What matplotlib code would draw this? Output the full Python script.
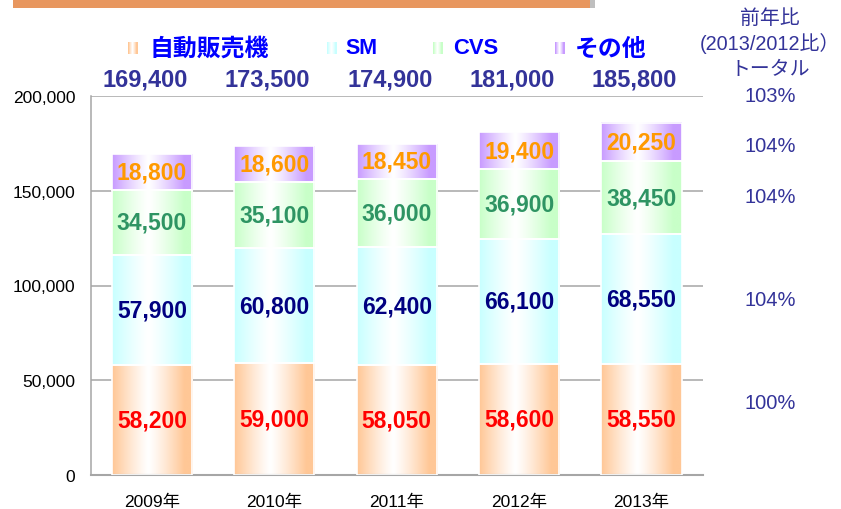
import numpy as np
import matplotlib
matplotlib.use('Agg')
import matplotlib.pyplot as plt
from matplotlib.patches import Rectangle
import matplotlib.transforms as mtransforms
from matplotlib.colors import to_rgb

plt.rcParams['font.family'] = ['Liberation Sans', 'Noto Sans CJK JP', 'DejaVu Sans']

# data
years = ['2009年', '2010年', '2011年', '2012年', '2013年']
series_names = ['自動販売機', 'SM', 'CVS', 'その他']
vending = [58200, 59000, 58050, 58600, 58550]
sm = [57900, 60800, 62400, 66100, 68550]
cvs = [34500, 35100, 36000, 36900, 38450]
other = [18800, 18600, 18450, 19400, 20250]
totals = [169400, 173500, 174900, 181000, 185800]
yoy_labels = ['103%', '104%', '104%', '104%', '100%']

fill_colors = ['#FFC796', '#C8FFFF', '#C8FFC8', '#C89BFF']
text_colors = ['#FF0000', '#000080', '#2E9463', '#FF9900']


def gradient(color, n=64):
    c = np.array(to_rgb(color))
    t = np.linspace(0, 1, n)
    w = np.clip(np.abs(t - 0.45) / 0.45, 0, 1) ** 1.2
    img = 1 - w[:, None] * (1 - c[None, :])
    return img[None, :, :]


fig = plt.figure(figsize=(8.41, 5.10), dpi=100)
ax = fig.add_axes([90.7 / 841, 1 - 475.7 / 510, 612 / 841, 378.4 / 510])

x = np.arange(len(years))
bottom = np.zeros(len(years))
for vals, fc, tc in zip([vending, sm, cvs, other], fill_colors, text_colors):
    bars = ax.bar(x, vals, width=0.655, bottom=bottom, color='none',
                  edgecolor='white', linewidth=1.2, zorder=3)
    for b, v in zip(bars, vals):
        bx, by = b.get_x(), b.get_y()
        bw, bh = b.get_width(), b.get_height()
        ax.imshow(gradient(fc), extent=[bx, bx + bw, by, by + bh],
                  aspect='auto', zorder=2, interpolation='bilinear')
        ax.text(bx + bw / 2, by + bh / 2, f'{v:,}', ha='center', va='center',
                color=tc, fontsize=16.5, fontweight='bold', zorder=4)
    bottom += np.array(vals)

ax.set_xlim(-0.5, len(years) - 0.5)
ax.set_ylim(0, 200000)
ax.set_yticks(np.arange(0, 200001, 50000))
ax.set_yticklabels([f'{v:,}' for v in range(0, 200001, 50000)], fontsize=12.5)
ax.set_xticks(x)
ax.set_xticklabels(years, fontsize=12.5)
ax.tick_params(axis='both', length=0)
ax.tick_params(axis='y', pad=11)
ax.tick_params(axis='x', pad=14)
ax.grid(axis='y', color='#A6A6A6', linewidth=1.1, zorder=0)
ax.set_axisbelow(True)
for s in ['top', 'right']:
    ax.spines[s].set_visible(False)
ax.spines['left'].set_color('#A6A6A6')
ax.spines['bottom'].set_color('#A6A6A6')
ax.spines['left'].set_linewidth(1.1)
ax.spines['bottom'].set_linewidth(1.5)

# totals above bars (slightly left of bar centres, as in the original)
trans = mtransforms.blended_transform_factory(ax.transData, ax.transAxes)
for xi, t in zip(x, totals):
    ax.text(xi - 0.057, 1.046, f'{t:,}', transform=trans, ha='center', va='center',
            color='#333399', fontsize=17, fontweight='bold', clip_on=False)

# legend
legend_pos = [(128, 150), (327, 345), (433, 453), (555, 575)]
legend_sizes = [17.2, 15.5, 15.8, 17.2]
for (mx, tx), name, fc, fs in zip(legend_pos, series_names, fill_colors, legend_sizes):
    lax = fig.add_axes([mx / 841, 1 - 55 / 510, 10 / 841, 12 / 510])
    lax.imshow(gradient(fc, 10), aspect='auto', interpolation='nearest')
    lax.axis('off')
    fig.text(tx / 841, 1 - 49 / 510, name, ha='left', va='center',
             color='#0000FF', fontsize=fs, fontweight='bold')

# right side year-on-year ratios
rx = 770 / 841
for txt, yy in [('前年比', 18), ('(2013/2012比）', 44), ('トータル', 70)]:
    fig.text(rx, 1 - yy / 510, txt, ha='center', va='center',
             color='#333399', fontsize=14.3)
for txt, yy in zip(yoy_labels, [96, 147, 198, 300, 404]):
    fig.text(rx, 1 - yy / 510, txt, ha='center', va='center',
             color='#333399', fontsize=14.5)

# decorative band at top
fig.patches.append(Rectangle((13 / 841, 1 - 9 / 510), 582 / 841, 9 / 510,
                             transform=fig.transFigure, facecolor='#BFBFBF',
                             edgecolor='none', zorder=0))
fig.patches.append(Rectangle((13 / 841, 1 - 9 / 510), 577 / 841, 9 / 510,
                             transform=fig.transFigure, facecolor='#E8975F',
                             edgecolor='none', zorder=1))

fig.savefig('out.png', dpi=100)
